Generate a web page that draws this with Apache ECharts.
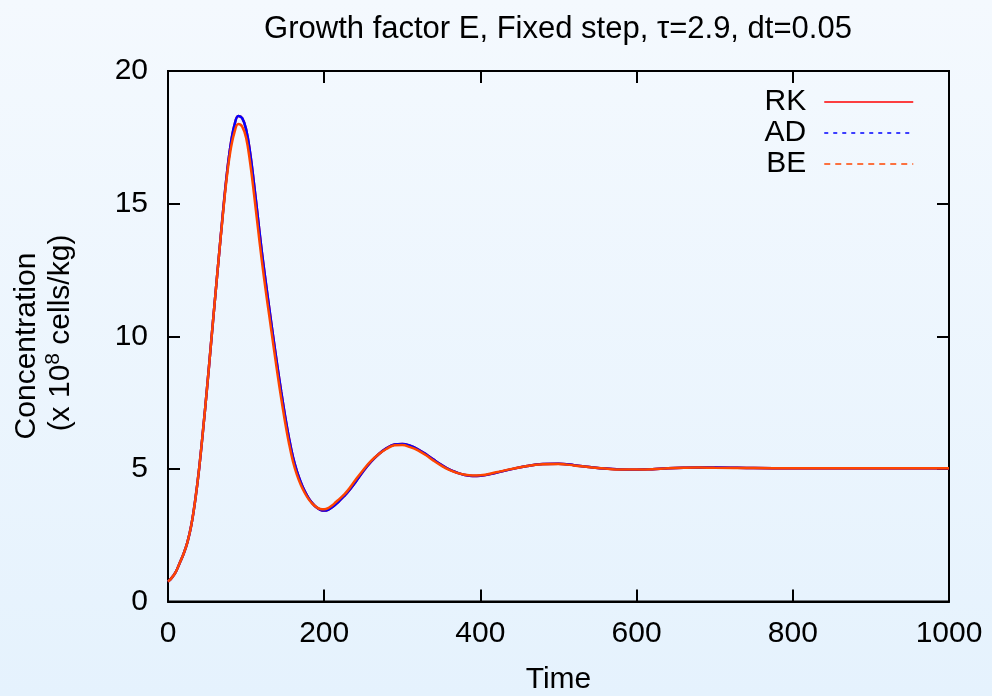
<!DOCTYPE html>
<html>
<head>
<meta charset="utf-8">
<script src="https://cdn.jsdelivr.net/npm/echarts@6/dist/echarts.min.js"></script>
<style>
html,body{margin:0;padding:0;}
#chart{width:992px;height:696px;}
</style>
</head>
<body>
<div id="chart"></div>
<script>
var timePoints = [0,5,10,15,20,25,30,35,40,45,50,55,60,65,70,75,80,85,90,95,100,105,110,115,120,125,130,135,140,145,150,155,160,165,170,175,180,185,190,195,200,205,210,215,220,225,230,240,250,260,270,280,290,300,310,320,330,340,350,360,370,380,390,400,420,440,460,480,500,520,540,560,580,600,620,640,660,680,700,750,800,850,900,950,1000];

var rkValues = [0.75,0.90,1.12,1.45,1.80,2.25,2.90,3.85,5.05,6.50,8.05,9.70,11.34,12.96,14.56,16.02,17.18,17.95,18.30,18.22,17.80,16.95,15.78,14.50,13.22,12.08,10.98,9.92,8.88,7.90,6.98,6.15,5.45,4.92,4.50,4.16,3.90,3.70,3.55,3.46,3.43,3.46,3.55,3.67,3.81,3.96,4.12,4.50,4.91,5.27,5.56,5.78,5.92,5.94,5.87,5.74,5.56,5.35,5.15,4.98,4.86,4.77,4.73,4.74,4.85,4.99,5.11,5.18,5.19,5.14,5.07,5.01,4.98,4.97,4.99,5.02,5.04,5.05,5.05,5.03,5.02,5.02,5.02,5.02,5.02];

var adValues = [0.75,0.90,1.12,1.45,1.80,2.25,2.90,3.85,5.05,6.50,8.05,9.70,11.34,12.96,14.56,16.02,17.18,17.95,18.30,18.22,17.80,16.95,15.78,14.50,13.22,12.08,10.98,9.92,8.88,7.90,6.98,6.15,5.45,4.92,4.50,4.16,3.90,3.70,3.55,3.46,3.43,3.46,3.55,3.67,3.81,3.96,4.12,4.50,4.91,5.27,5.56,5.78,5.92,5.94,5.87,5.74,5.56,5.35,5.15,4.98,4.86,4.77,4.73,4.74,4.85,4.99,5.11,5.18,5.19,5.14,5.07,5.01,4.98,4.97,4.99,5.02,5.04,5.05,5.05,5.03,5.02,5.02,5.02,5.02,5.02];

var beValues = [0.75,0.90,1.12,1.45,1.80,2.25,2.90,3.85,5.05,6.50,8.05,9.70,11.34,12.96,14.50,15.92,17.00,17.68,18.00,17.90,17.48,16.58,15.40,14.12,12.88,11.75,10.70,9.65,8.62,7.65,6.75,5.95,5.28,4.78,4.40,4.10,3.86,3.68,3.56,3.49,3.48,3.52,3.62,3.75,3.88,4.02,4.18,4.58,4.96,5.30,5.56,5.76,5.89,5.90,5.82,5.70,5.52,5.31,5.12,4.96,4.85,4.78,4.75,4.76,4.87,5.00,5.11,5.17,5.18,5.13,5.06,5.01,4.98,4.98,4.99,5.02,5.04,5.05,5.04,5.03,5.02,5.02,5.02,5.02,5.02];

var seriesNames = ['RK','AD','BE'];
var xTicks = {min:0, max:1000, interval:200};
var yTicks = {min:0, max:20, interval:5};
var titleText = 'Growth factor E, Fixed step, \u03c4=2.9, dt=0.05';

function pairs(vals){ return timePoints.map(function(t,i){ return [t, vals[i]]; }); }

var FONT = 'Liberation Sans, Arial, Helvetica, sans-serif';
var chart = echarts.init(document.getElementById('chart'), null, {renderer:'canvas'});

function makeAxis(kind, position, ticks, showLabels, extra){
  var ax = {
    type:'value', position:position, min:ticks.min, max:ticks.max, interval:ticks.interval,
    axisLine:{show:true, onZero:false, lineStyle:{color:'#000', width:2}},
    axisTick:{show:true, inside:true, length:12, lineStyle:{color:'#000', width:2}},
    splitLine:{show:false},
    axisLabel: showLabels ? {show:true, fontFamily:FONT, fontSize:30, color:'#000',
      margin:(kind === 'x' ? 17 : 20), formatter:function(v){ return String(v); }} : {show:false}
  };
  if (extra) { for (var k in extra) ax[k] = extra[k]; }
  return ax;
}

var option = {
  animation:false,
  backgroundColor:{type:'linear', x:0, y:0, x2:0, y2:1, colorStops:[{offset:0,color:'#f4f9fe'},{offset:1,color:'#e5f2fd'}]},
  title:{text:titleText, left:553, textAlign:'center', top:9,
    textStyle:{fontFamily:FONT, fontSize:31, fontWeight:'normal', color:'#000'}},
  grid:{left:168, right:43, top:71, bottom:94.5, containLabel:false, outerBoundsMode:'none', show:true,
    borderColor:'#000', borderWidth:2, backgroundColor:'transparent'},
  legend:{
    orient:'vertical', right:73, top:82, align:'right',
    itemWidth:89, itemHeight:12, itemGap:1,
    textStyle:{fontFamily:FONT, fontSize:30, color:'#000', lineHeight:30, padding:[0,13,0,0]},
    data:[
      {name:seriesNames[0], itemStyle:{opacity:0}, lineStyle:{color:'#ff0000', width:1.5, type:'solid'}},
      {name:seriesNames[1], itemStyle:{opacity:0}, lineStyle:{color:'#0000ff', width:1.5, type:[4,5]}},
      {name:seriesNames[2], itemStyle:{opacity:0}, lineStyle:{color:'#ff4500', width:1.5, type:[6,5]}}
    ]
  },
  xAxis:[
    makeAxis('x','bottom',xTicks,true,{name:'Time', nameLocation:'middle', nameGap:63,
      nameTextStyle:{fontFamily:FONT, fontSize:30, color:'#000'}}),
    makeAxis('x','top',xTicks,false)
  ],
  yAxis:[
    makeAxis('y','left',yTicks,true),
    makeAxis('y','right',yTicks,false)
  ],
  graphic:[
    {type:'text', x:27, y:346, rotation:Math.PI/2,
      style:{text:'Concentration', fontFamily:FONT, fontSize:30, fill:'#000', align:'center', verticalAlign:'middle'}},
    {type:'text', x:61, y:333, rotation:Math.PI/2,
      style:{text:'{n|(x 10}{s|8}{n| cells/kg)}', align:'center', verticalAlign:'middle',
        rich:{n:{fontFamily:FONT, fontSize:30, fill:'#000', color:'#000'},
              s:{fontFamily:FONT, fontSize:21, fill:'#000', color:'#000', padding:[0,0,16,0]}}}}
  ],
  series:[
    {name:seriesNames[0], type:'line', data:pairs(rkValues), showSymbol:false, symbol:'none', smooth:0.4,
      lineStyle:{color:'#ff0000', width:2.5}, itemStyle:{color:'#ff0000'}, z:2},
    {name:seriesNames[1], type:'line', data:pairs(adValues), showSymbol:false, symbol:'none', smooth:0.4,
      lineStyle:{color:'#0000ff', width:2.5}, itemStyle:{color:'#0000ff'}, z:3},
    {name:seriesNames[2], type:'line', data:pairs(beValues), showSymbol:false, symbol:'none', smooth:0.4,
      lineStyle:{color:'#ff4500', width:2.5}, itemStyle:{color:'#ff4500'}, z:4}
  ]
};
chart.setOption(option);
</script>
</body>
</html>
